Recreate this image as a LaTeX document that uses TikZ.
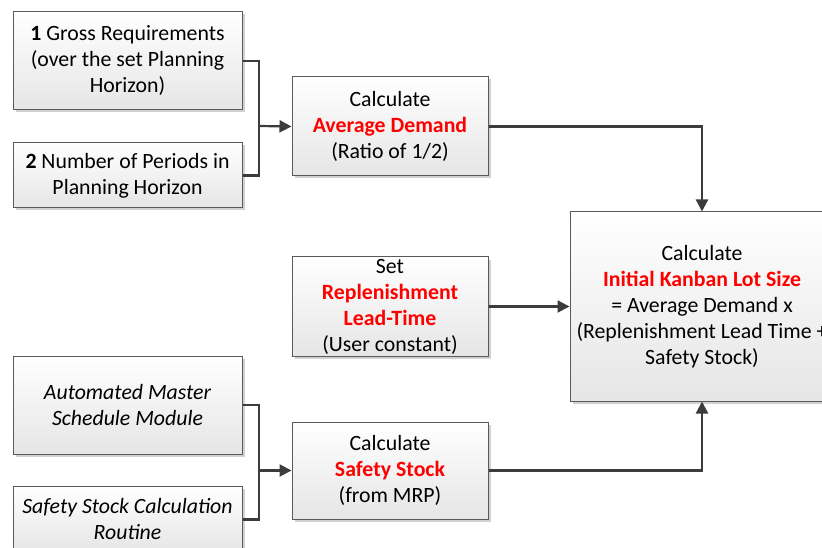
\documentclass[tikz,border=0pt]{standalone}
\usepackage{fontspec}
\setmainfont{Carlito}
\usetikzlibrary{arrows.meta,shadows}
\definecolor{edgegray}{HTML}{5A5A5A}
\definecolor{linegray}{HTML}{3C3C3C}
\definecolor{hot}{HTML}{FF0000}
\newcommand{\hl}[1]{\textcolor{hot}{\textbf{#1}}}
\tikzset{
  box/.style={draw=edgegray, line width=1pt, rectangle, inner sep=0pt,
    top color=white, bottom color=black!10, align=center,
    font=\fontsize{21.8}{26}\selectfont,
    drop shadow={shadow xshift=2.5pt, shadow yshift=-2.5pt, fill=black!30, opacity=0.6}},
  link/.style={draw=linegray, line width=2.2pt},
  flow/.style={link, -{Triangle[length=12pt,width=12pt]}}
}
\begin{document}
\begin{tikzpicture}[x=1pt,y=-1pt]
\useasboundingbox (0,0) rectangle (822,548);
\clip (0,0) rectangle (822,548);

% input boxes, left column
\node[box, minimum width=229pt, minimum height=98pt] (gross) at (127.5,61)
  {\textbf{1} Gross Requirements\\(over the set Planning\\Horizon)};
\node[box, minimum width=229pt, minimum height=65pt] (periods) at (127.5,175.5)
  {\textbf{2} Number of Periods in\\Planning Horizon};
\node[box, minimum width=229pt, minimum height=98pt] (master) at (127.5,405)
  {\itshape Automated Master\\\itshape Schedule Module};
\node[box, minimum width=229pt, minimum height=67pt] (routine) at (127.5,519.5)
  {\itshape Safety Stock Calculation\\\itshape Routine};

% calculation boxes, middle column
\node[box, minimum width=196pt, minimum height=99pt] (avg) at (390,126.5)
  {Calculate\\\hl{Average Demand}\\(Ratio of 1/2)};
\node[box, minimum width=196pt, minimum height=99pt] (lead) at (390,306.5)
  {Set\\\hl{Replenishment}\\\hl{Lead-Time}\\(User constant)};
\node[box, minimum width=196pt, minimum height=97pt] (safety) at (390,470.5)
  {Calculate\\\hl{Safety Stock}\\(from MRP)};

% result box
\node[box, minimum width=264pt, minimum height=189pt] (lot) at (702,306.5)
  {Calculate\\\hl{Initial Kanban Lot Size}\\= Average Demand x\\(Replenishment Lead Time +\\Safety Stock)};

% connectors
\coordinate (j1) at (259,126);
\coordinate (j2) at (259,470.5);
\draw[link] (gross.east) -| (j1) |- (periods.east);
\draw[flow] (j1) -- (avg.west);
\draw[link] (master.east) -| (j2) |- (routine.east);
\draw[flow] (j2) -- (safety.west);
\draw[flow] (avg.east) -| (lot.north);
\draw[flow] (lead.east) -- (lot.west);
\draw[flow] (safety.east) -| (lot.south);
\end{tikzpicture}
\end{document}
